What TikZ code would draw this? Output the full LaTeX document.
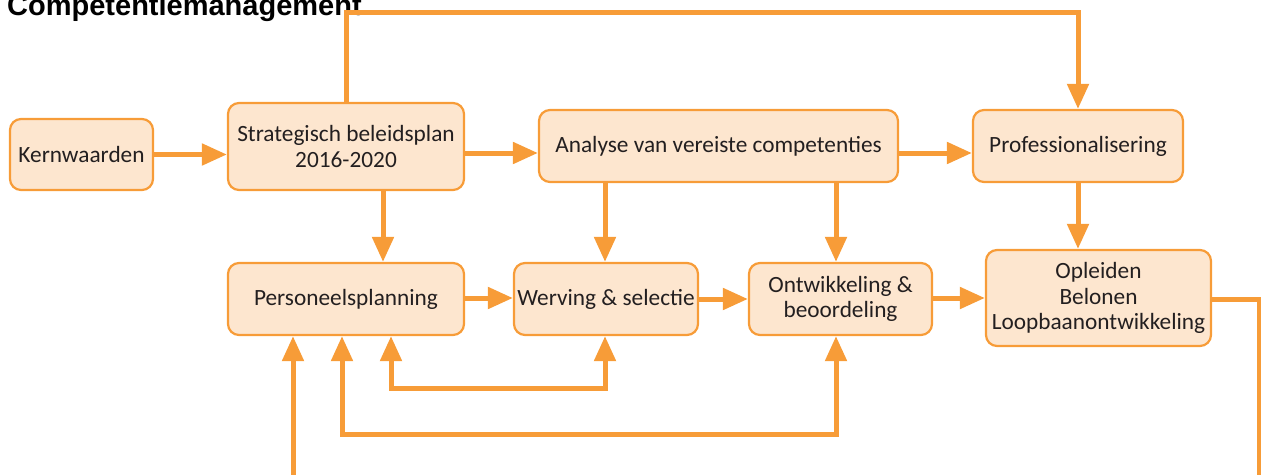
\documentclass[tikz,border=0pt]{standalone}
\usepackage{fontspec}
\setmainfont{Carlito}
\newfontfamily\titlefont{Liberation Sans}
\usetikzlibrary{arrows.meta}
\definecolor{orng}{HTML}{F79C38}
\definecolor{peach}{HTML}{FDE6CF}
\definecolor{txt}{HTML}{231F20}
\tikzset{
  box/.style={draw=orng, line width=2.2pt, fill=peach, rounded corners=11pt,
    inner sep=0pt, align=center, text=txt, font=\fontsize{23.3}{25.5}\selectfont},
  arr/.style={draw=orng, line width=5pt, -{Triangle[width=21pt,length=25pt]}},
  dbl/.style={draw=orng, line width=5pt, {Triangle[width=21pt,length=25pt]}-{Triangle[width=21pt,length=25pt]}},
  plain/.style={draw=orng, line width=5pt}
}
\begin{document}
\begin{tikzpicture}[x=1pt,y=-1pt]
\useasboundingbox (0,0) rectangle (1261,474);
\node[anchor=base west, inner sep=0pt, font=\titlefont\bfseries\fontsize{29}{29}\selectfont] (title) at (7,15) {Competentiemanagement};

\node[box, minimum width=143pt, minimum height=71pt] (kern) at (81.5,154.5) {Kernwaarden};
\node[box, minimum width=236pt, minimum height=87pt] (strat) at (346,146.5) {Strategisch beleidsplan\\2016-2020};
\node[box, minimum width=359pt, minimum height=72pt] (anal) at (718.5,146) {Analyse van vereiste competenties};
\node[box, minimum width=210pt, minimum height=72pt] (prof) at (1078,146) {Professionalisering};
\node[box, minimum width=236pt, minimum height=72pt] (pers) at (346,299) {Personeelsplanning};
\node[box, minimum width=184pt, minimum height=72pt] (werv) at (606,299) {Werving \& selectie};
\node[box, minimum width=183pt, minimum height=72pt] (ontw) at (840.5,299) {Ontwikkeling \&\\beoordeling};
\node[box, minimum width=225pt, minimum height=96pt] (opl) at (1098.5,298) {Opleiden\\Belonen\\Loopbaanontwikkeling};

\coordinate (outend) at (1259,480);
\coordinate (inend) at (293,480);

% horizontal top row
\draw[arr] (kern.east) -- (kern.east -| strat.west);
\draw[arr] (strat.east |- 0,153) -- (anal.west |- 0,153);
\draw[arr] (anal.east |- 0,153) -- (prof.west |- 0,153);
% top loop
\draw[arr] (strat.north) -- (346,12) -| (prof.north);
% verticals
\draw[arr] (strat.south -| 383,0) -- (pers.north -| 383,0);
\draw[arr] (anal.south -| 605,0) -- (werv.north -| 605,0);
\draw[arr] (anal.south -| 836,0) -- (ontw.north -| 836,0);
\draw[arr] (prof.south) -- (prof.south |- opl.north);
% second row
\draw[arr] (pers.east |- 0,298) -- (werv.west |- 0,298);
\draw[arr] (werv.east |- 0,299) -- (ontw.west |- 0,299);
\draw[arr] (ontw.east |- 0,298) -- (opl.west |- 0,298);
% out and in
\draw[plain] (opl.east |- 0,299) -| (outend);
\draw[arr] (inend) -- (inend |- pers.south);
% bottom loops
\draw[dbl] (pers.south -| 391,0) -- (391,388) -- (605,388) -- (werv.south -| 605,0);
\draw[dbl] (pers.south -| 342,0) -- (342,434) -- (836,434) -- (ontw.south -| 836,0);
\end{tikzpicture}
\end{document}
